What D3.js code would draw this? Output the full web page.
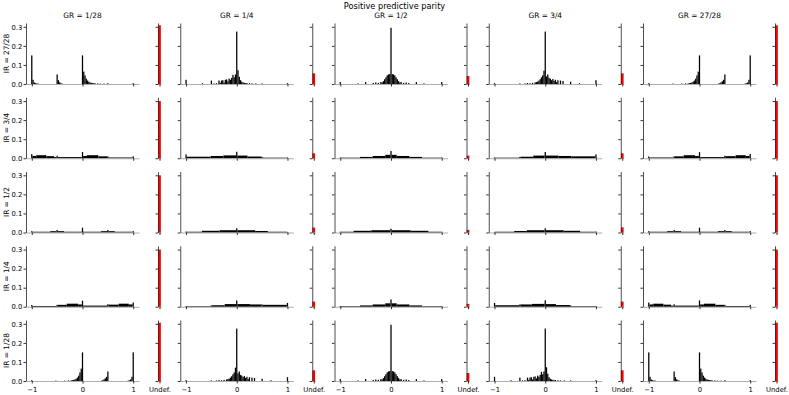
<!DOCTYPE html>
<html>
<head>
<meta charset="utf-8">
<script src="https://cdn.jsdelivr.net/npm/d3@7"></script>
<style>
  body { margin: 0; background: #fff; }
  svg { display: block; font-family: 'DejaVu Sans', sans-serif; }
</style>
</head>
<body>
<div class="container"></div>
<script>
/* globals d3 */
// grid of histograms: rows = IR, columns = GR, plus a narrow "Undef." bar per panel

const suptitle = 'Positive predictive parity';
const colTitles = ['GR = 1/28', 'GR = 1/4', 'GR = 1/2', 'GR = 3/4', 'GR = 27/28'];
const rowTitles = ['IR = 27/28', 'IR = 3/4', 'IR = 1/2', 'IR = 1/4', 'IR = 1/28'];
const xTicks = [-1, 0, 1];
const yTicks = [0, 0.1, 0.2, 0.3];
const undefLabel = 'Undef.';
const binWidth = 0.025;

// share of undefined values, one per panel (row by row)
const undefShare = [
  [0.308, 0.056, 0.042, 0.056, 0.308],
  [0.300, 0.026, 0.014, 0.026, 0.300],
  [0.300, 0.026, 0.014, 0.027, 0.300],
  [0.300, 0.027, 0.015, 0.027, 0.300],
  [0.306, 0.056, 0.042, 0.056, 0.306]
];

// histogram bins: [binCenter, height] or [firstCenter, lastCenter, height] for a run of equal bins
const r1c1 = [[-1, 0.15], [-0.975, 0.022], [-0.95, 0.008], [-0.925, 0.004], [-0.9, -0.875, 0.002],
  [-0.5, 0.05], [-0.475, 0.02], [-0.45, 0.009], [-0.425, 0.004], [-0.4, 0.002],
  [0, 0.15], [0.025, 0.065], [0.05, 0.045], [0.075, 0.028], [0.1, 0.018], [0.125, 0.012], [0.15, 0.008],
  [0.175, 0.006], [0.2, 0.225, 0.004], [0.25, 0.003], [0.3, 0.003], [0.35, 0.002], [0.425, 0.002],
  [0.5, 0.004], [1, 0.004]];
const r1c2 = [[-1, 0.022], [-0.675, 0.004], [-0.5, 0.018], [-0.45, 0.003], [-0.4, 0.004], [-0.35, 0.018],
  [-0.325, 0.006], [-0.3, 0.018], [-0.275, 0.02], [-0.25, 0.008], [-0.225, 0.022], [-0.2, 0.024],
  [-0.175, 0.014], [-0.15, 0.028], [-0.125, 0.022], [-0.1, 0.032], [-0.075, 0.048], [-0.05, 0.035],
  [-0.025, 0.05], [0, 0.275], [0.025, 0.072], [0.05, 0.038], [0.075, 0.02], [0.1, 0.012], [0.125, 0.008],
  [0.15, 0.006], [0.175, 0.004], [0.2, 0.005], [0.25, 0.004], [0.3, 0.003], [0.375, 0.003], [0.5, 0.003],
  [1, 0.004]];
const r1c3 = [[-1, 0.01], [-0.65, 0.003], [-0.5, 0.01], [-0.35, 0.005], [-0.3, 0.008], [-0.25, 0.006],
  [-0.2, 0.01], [-0.175, 0.008], [-0.15, 0.015], [-0.125, 0.025], [-0.1, 0.035], [-0.075, 0.045],
  [-0.05, 0.05], [-0.025, 0.052], [0, 0.295], [0.025, 0.052], [0.05, 0.05], [0.075, 0.045], [0.1, 0.035],
  [0.125, 0.025], [0.15, 0.015], [0.175, 0.008], [0.2, 0.01], [0.25, 0.006], [0.3, 0.008], [0.35, 0.005],
  [0.5, 0.01], [0.65, 0.003], [1, 0.01]];
const r1c4 = [[-1, 0.004], [-0.5, 0.003], [-0.4, 0.003], [-0.35, 0.005], [-0.3, 0.004], [-0.25, 0.006],
  [-0.2, 0.008], [-0.175, 0.01], [-0.15, 0.012], [-0.125, 0.018], [-0.1, 0.025], [-0.075, 0.035],
  [-0.05, 0.045], [-0.025, 0.07], [0, 0.275], [0.025, 0.04], [0.05, 0.05], [0.075, 0.032], [0.1, 0.028],
  [0.125, 0.02], [0.15, 0.026], [0.175, 0.016], [0.2, 0.022], [0.225, 0.01], [0.25, 0.02], [0.3, 0.018],
  [0.35, 0.016], [0.5, 0.012], [0.675, 0.004], [1, 0.02]];
const r1c5 = [[-1, 0.004], [-0.525, 0.002], [-0.35, 0.002], [-0.275, 0.003], [-0.225, 0.003], [-0.2, 0.004],
  [-0.175, 0.006], [-0.15, 0.008], [-0.125, 0.012], [-0.1, 0.018], [-0.075, 0.028], [-0.05, 0.045],
  [-0.025, 0.065], [0, 0.15], [0.375, 0.002], [0.4, 0.004], [0.425, 0.009], [0.45, 0.014], [0.475, 0.022],
  [0.5, 0.05], [0.9, 0.002], [0.925, 0.004], [0.95, 0.008], [0.975, 0.022], [1, 0.15]];

const r2c1 = [[-1, 0.022], [-0.975, -0.925, 0.012], [-0.9, -0.725, 0.016], [-0.7, -0.575, 0.011],
  [-0.55, -0.525, 0.006], [-0.5, 0.013], [-0.475, -0.025, 0.006], [0, 0.033], [0.025, 0.075, 0.012],
  [0.1, 0.3, 0.016], [0.325, 0.475, 0.01], [0.5, 0.01], [0.525, 0.975, 0.004], [1, 0.01]];
const r2c2 = [[-1, 0.02], [-0.975, -0.525, 0.008], [-0.5, 0.012], [-0.475, -0.275, 0.012],
  [-0.25, -0.025, 0.015], [0, 0.034], [0.025, 0.2, 0.014], [0.225, 0.475, 0.009], [0.5, 0.007],
  [0.525, 0.975, 0.003], [1, 0.004]];
const r2c3 = [[-1, 0.004], [-0.975, -0.625, 0.003], [-0.6, -0.375, 0.007], [-0.35, -0.125, 0.012],
  [-0.1, -0.025, 0.018], [0, 0.038], [0.025, 0.1, 0.018], [0.125, 0.35, 0.012], [0.375, 0.6, 0.007],
  [0.625, 0.975, 0.003], [1, 0.004]];
const r2c4 = [[-1, 0.004], [-0.975, -0.525, 0.003], [-0.5, 0.007], [-0.475, -0.25, 0.008],
  [-0.225, -0.025, 0.014], [0, 0.033], [0.025, 0.25, 0.014], [0.275, 0.475, 0.012], [0.5, 0.012],
  [0.525, 0.975, 0.01], [1, 0.02]];
const r2c5 = [[-1, 0.009], [-0.975, -0.525, 0.004], [-0.5, 0.01], [-0.475, -0.325, 0.01],
  [-0.3, -0.1, 0.016], [-0.075, -0.025, 0.012], [0, 0.032], [0.025, 0.475, 0.006], [0.5, 0.013],
  [0.525, 0.7, 0.011], [0.725, 0.9, 0.016], [0.925, 0.975, 0.012], [1, 0.022]];

const r3c1 = [[-1, 0.007], [-0.975, -0.65, 0.004], [-0.625, -0.525, 0.007], [-0.5, 0.013],
  [-0.475, -0.375, 0.007], [-0.35, -0.025, 0.004], [0, 0.025], [0.025, 0.35, 0.004], [0.375, 0.475, 0.007],
  [0.5, 0.013], [0.525, 0.625, 0.007], [0.65, 0.975, 0.004], [1, 0.007]];
const r3c2 = [[-1, 0.005], [-0.975, -0.7, 0.004], [-0.675, -0.35, 0.009], [-0.325, -0.025, 0.012],
  [0, 0.022], [0.025, 0.35, 0.012], [0.375, 0.6, 0.008], [0.625, 0.975, 0.004], [1, 0.003]];
const r3c3 = [[-1, 0.004], [-0.975, -0.75, 0.004], [-0.725, -0.4, 0.009], [-0.375, -0.025, 0.012],
  [0, 0.02], [0.025, 0.375, 0.012], [0.4, 0.725, 0.009], [0.75, 0.975, 0.004], [1, 0.004]];
const r3c4 = [[-1, 0.003], [-0.975, -0.625, 0.004], [-0.6, -0.375, 0.008], [-0.35, -0.025, 0.012],
  [0, 0.022], [0.025, 0.35, 0.012], [0.375, 0.675, 0.009], [0.7, 0.975, 0.004], [1, 0.005]];
const r3c5 = [[-1, 0.007], [-0.975, -0.65, 0.004], [-0.625, -0.525, 0.007], [-0.5, 0.013],
  [-0.475, -0.375, 0.007], [-0.35, -0.025, 0.004], [0, 0.025], [0.025, 0.35, 0.004], [0.375, 0.475, 0.007],
  [0.5, 0.013], [0.525, 0.625, 0.007], [0.65, 0.975, 0.004], [1, 0.007]];

// the bottom two rows show the same histograms as the top two, columns reversed
const panels = [
  [r1c1, r1c2, r1c3, r1c4, r1c5],
  [r2c1, r2c2, r2c3, r2c4, r2c5],
  [r3c1, r3c2, r3c3, r3c4, r3c5],
  [r2c5, r2c4, r2c3, r2c2, r2c1],
  [r1c5, r1c4, r1c3, r1c2, r1c1]
];

// frame
const layout = {
  colLeft: 26, colStep: 154.25, mainW: 113,
  undefOffset: 132, undefW: 3,
  rowBottom: 84, rowStep: 74.25, axH: 61
};
const colors = { bar: '#000', undef: '#ff0000', spine: '#222', base: '#999' };

const svg = d3.select('.container')
  .append('svg')
  .attr('width', 789)
  .attr('height', 395);

const x = d3.scaleLinear().domain([-1.114, 1.114]).range([0, layout.mainW]);
const xu = d3.scaleLinear().domain([-0.44, 0.44]).range([0, layout.undefW]);
const y = d3.scaleLinear().domain([0, 0.32]).range([layout.axH, 0]);

const toBar = d => (d.length === 2
  ? { x0: d[0] - binWidth / 2, x1: d[0] + binWidth / 2, h: d[1] }
  : { x0: d[0] - binWidth / 2, x1: d[1] + binWidth / 2, h: d[2] });

// style an axis group like matplotlib
function styleAxis(g, domainColor) {
  g.select('.domain').attr('stroke', domainColor).attr('stroke-width', 0.8);
  g.selectAll('.tick line').attr('stroke', '#000').attr('stroke-width', 0.8);
  g.selectAll('.tick text').attr('fill', '#000').attr('font-size', 6.8)
    .attr('font-family', "'DejaVu Sans', sans-serif");
}

svg.append('text')
  .attr('x', 394.5)
  .attr('y', 9)
  .attr('text-anchor', 'middle')
  .attr('font-size', 8.2)
  .text(suptitle);

panels.forEach((row, r) => {
  row.forEach((hist, c) => {
    const left = layout.colLeft + c * layout.colStep;
    const top = layout.rowBottom + r * layout.rowStep - layout.axH;
    const lastRow = r === panels.length - 1;

    // main histogram
    const g = svg.append('g').attr('transform', `translate(${left},${top})`);
    g.selectAll('rect')
      .data(hist.map(toBar))
      .join('rect')
      .attr('x', d => x(d.x0))
      .attr('width', d => x(d.x1) - x(d.x0))
      .attr('y', d => y(d.h))
      .attr('height', d => y(0) - y(d.h))
      .attr('fill', colors.bar);

    const gx = g.append('g')
      .attr('transform', `translate(0,${layout.axH})`)
      .call(d3.axisBottom(x).tickValues(xTicks).tickSize(2.5).tickSizeOuter(0).tickPadding(4)
        .tickFormat(lastRow ? d3.format('d') : () => ''));
    styleAxis(gx, colors.base);

    const gy = g.append('g')
      .call(d3.axisLeft(y).tickValues(yTicks).tickSize(2.5).tickSizeOuter(0).tickPadding(1.3)
        .tickFormat(c === 0 ? d3.format('.1f') : () => ''));
    styleAxis(gy, colors.spine);

    // undefined share
    const gu = svg.append('g').attr('transform', `translate(${left + layout.undefOffset},${top})`);
    gu.append('rect')
      .attr('x', xu(-0.4))
      .attr('width', xu(0.4) - xu(-0.4))
      .attr('y', y(undefShare[r][c]))
      .attr('height', y(0) - y(undefShare[r][c]))
      .attr('fill', colors.undef);

    const gux = gu.append('g')
      .attr('transform', `translate(0,${layout.axH})`)
      .call(d3.axisBottom(xu).tickValues([0]).tickSize(2.5).tickSizeOuter(0).tickPadding(4)
        .tickFormat(() => (lastRow ? undefLabel : '')));
    styleAxis(gux, colors.base);

    const guy = gu.append('g')
      .call(d3.axisLeft(y).tickValues(yTicks).tickSize(2.5).tickSizeOuter(0).tickFormat(() => ''));
    styleAxis(guy, colors.spine);

    // titles
    if (r === 0) {
      svg.append('text')
        .attr('x', left + layout.mainW / 2)
        .attr('y', 18)
        .attr('text-anchor', 'middle')
        .attr('font-size', 7.4)
        .text(colTitles[c]);
    }
    if (c === 0) {
      svg.append('text')
        .attr('transform', `translate(8.5,${top + layout.axH / 2}) rotate(-90)`)
        .attr('text-anchor', 'middle')
        .attr('font-size', 7.4)
        .text(rowTitles[r]);
    }
  });
});
</script>
</body>
</html>
